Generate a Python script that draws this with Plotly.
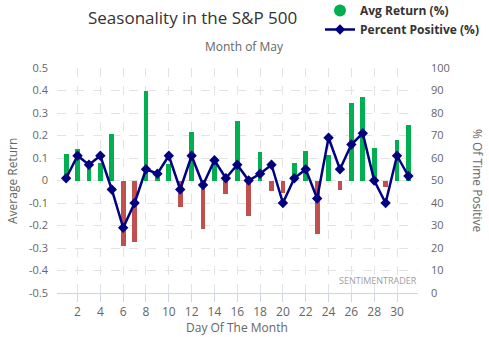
import plotly.graph_objects as go

days = list(range(1, 32))
avg_return = [0.12, 0.14, 0.07, 0.08, 0.205, -0.29, -0.275, 0.40, 0.015, 0.075,
              -0.116, 0.215, -0.215, 0.10, -0.058, 0.263, -0.157, 0.128, -0.045, -0.054,
              0.079, 0.133, -0.237, 0.115, -0.04, 0.345, 0.37, 0.146, -0.028, 0.179, 0.245]
pct_positive = [51, 61, 57, 61, 46, 29, 40, 55, 53, 61,
                46, 61, 48, 59, 51, 57, 50, 53, 57, 40,
                51, 55, 42, 69, 55, 66, 71, 50, 40, 61, 52]
left_ticks = [0.5, 0.4, 0.3, 0.2, 0.1, 0, -0.1, -0.2, -0.3, -0.4, -0.5]
left_tick_text = ["0.5", "0.4", "0.3", "0.2", "0.1", "0", "-0.1", "-0.2", "-0.3", "-0.4", "-0.5"]
right_ticks = [0, 10, 20, 30, 40, 50, 60, 70, 80, 90, 100]
x_ticks = list(range(2, 31, 2))

GREEN = "#00b050"
RED = "#c0504d"
NAVY = "#000080"
FONT = "Open Sans"

bar_colors = [GREEN if v >= 0 else RED for v in avg_return]

fig = go.Figure()
fig.add_trace(go.Bar(x=days, y=avg_return, marker=dict(color=bar_colors, line=dict(width=0)),
                     width=0.42, name="Avg Return (%)", showlegend=False, yaxis="y"))
# legend proxy for the bar series (circle symbol)
fig.add_trace(go.Scatter(x=[None], y=[None], mode="markers", name="Avg Return (%)",
                         marker=dict(symbol="circle", size=12, color=GREEN), yaxis="y"))
fig.add_trace(go.Scatter(x=days, y=pct_positive, mode="lines+markers", name="Percent Positive (%)",
                         line=dict(color=NAVY, width=2.5),
                         marker=dict(symbol="diamond", size=8, color=NAVY), yaxis="y2"))

pw = 489 - 57 - 71
ph = 337 - 68 - 44

grid = "#e3e3e3"
fig.update_layout(
    width=489, height=337,
    margin=dict(l=57, r=71, t=68, b=44, autoexpand=False),
    paper_bgcolor="white", plot_bgcolor="white",
    font=dict(family=FONT, color="#666666", size=11),
    showlegend=True,
    legend=dict(x=(320 - 57) / pw, xanchor="left", y=1 + 72 / ph, yanchor="top",
                font=dict(family=FONT, size=12, color="#333333", weight="bold"),
                bgcolor="rgba(0,0,0,0)", tracegroupgap=0, itemwidth=30),
    bargap=0,
    xaxis=dict(range=[0.2, 31.84], tickmode="array", tickvals=x_ticks, tickangle=0,
               showgrid=True, gridcolor=grid, griddash="dash", gridwidth=1,
               showline=True, linecolor="#ccd6eb", linewidth=1,
               ticks="outside", ticklen=8, tickcolor="#ccd6eb",
               tickfont=dict(size=12, color="#666666"), zeroline=False),
    yaxis=dict(range=[-0.5, 0.5], tickmode="array", tickvals=left_ticks, ticktext=left_tick_text,
               showgrid=True, gridcolor=grid, griddash="dash", gridwidth=1,
               zeroline=False, tickfont=dict(size=11, color="#666666"), ticklabelstandoff=8),
    yaxis2=dict(range=[0, 100], overlaying="y", side="right", tickmode="array", tickvals=right_ticks,
                ticksuffix=" %", showgrid=False, zeroline=False,
                tickfont=dict(size=11, color="#666666"), ticklabelstandoff=12),
    annotations=[
        dict(text="Seasonality in the S&P 500", x=192, y=17,
             showarrow=False, font=dict(size=17, color="#333333", family=FONT)),
        dict(text="Month of May", x=244, y=46, showarrow=False,
             font=dict(size=12, color="#666666", family=FONT)),
        dict(text="Average Return", x=12, y=181, textangle=-90, showarrow=False,
             font=dict(size=12, color="#666666", family=FONT)),
        dict(text="% Of Time Positive", x=478, y=181, textangle=90, showarrow=False,
             font=dict(size=12, color="#666666", family=FONT)),
        dict(text="Day Of The Month", x=237, y=327, showarrow=False,
             font=dict(size=12, color="#666666", family=FONT)),
        dict(text="SENTIMENTRADER", x=378, y=280, showarrow=False,
             font=dict(size=9, color="#a0a0a0", family=FONT)),
    ],
)

# convert pixel-positioned annotations into paper coordinates
anns = []
for a in fig.layout.annotations:
    px, py = a.x, a.y
    a.xref = "paper"
    a.yref = "paper"
    a.xanchor = "center"
    a.yanchor = "middle"
    a.x = (px - 57) / pw
    a.y = 1 - (py - 68) / ph
    anns.append(a)
fig.layout.annotations = anns

fig.write_html("out.html")
